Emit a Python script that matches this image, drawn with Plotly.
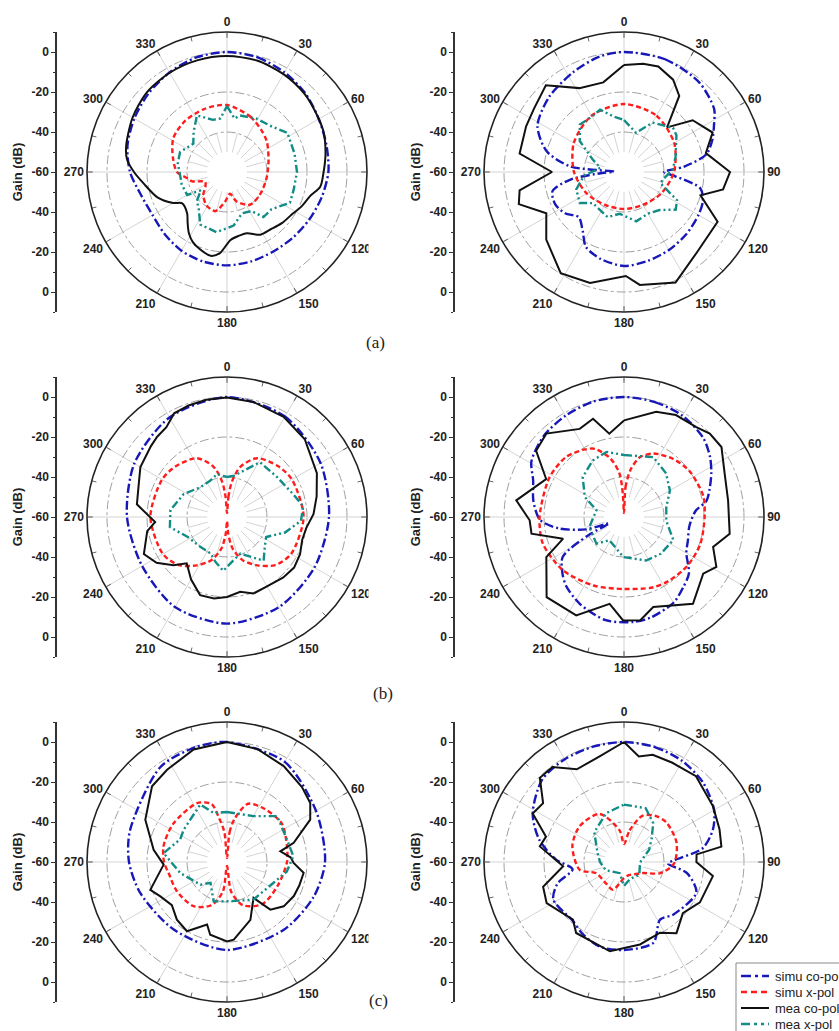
import plotly.graph_objects as go

W, H = 839, 1031

# ---------------- data (gain in dB vs angle in degrees) ----------------
ANG_TICKS = [0, 30, 60, 90, 120, 150, 180, 210, 240, 270, 300, 330]
ANG_TEXT = ["0", "30", "60", "90", "120", "150", "180", "210", "240", "270", "300", "330"]
GAIN_TICKVALS = [-60, -40, -20, 0, 20, 40, 60]
GAIN_TICKTEXT = ["0", "-20", "-40", "-60", "-40", "-20", "0"]
LEGEND_NAMES = ["simu co-pol", "simu x-pol", "mea co-pol", "mea x-pol"]
PANEL_LABELS = ["(a)", "(b)", "(c)"]

# panel (a) left
AL_SC_T = [0, 15, 30, 45, 60, 75, 90, 105, 120, 135, 150, 165, 180, 195, 210, 225, 240, 255, 270, 285, 300, 315, 330, 345]
AL_SC_R = [0, -0.7, -2.5, -4.5, -7, -8.5, -9.3, -11, -12.5, -13.5, -14, -13.7, -13.3, -13.7, -14.5, -16, -17, -15.5, -11.5, -8.5, -6.5, -4.5, -2.5, -0.7]
AL_SX_T = [0, 23, 40, 53, 75, 99, 125, 145, 162, 172, 184, 197, 212, 226, 236, 246, 255, 261, 270, 285, 302, 320, 340]
AL_SX_R = [-26.5, -30, -33, -35, -38.5, -40, -40, -40, -44.5, -49, -45, -39.5, -40.5, -43.5, -47, -48, -42, -40, -35, -32, -28.3, -27, -26.5]
AL_MC_T = [0, 15, 30, 45, 60, 68, 80, 90, 99, 106, 115, 122, 133, 143, 152, 162, 170, 177, 185, 191, 199, 206, 212, 218, 224, 235, 240, 250, 262, 270, 277, 284, 300, 315, 330, 345]
AL_MC_R = [-2, -2.3, -3.5, -5, -7, -7.8, -10, -11.7, -12.8, -16.7, -19, -21, -22.5, -24, -24.5, -27.8, -27.5, -26, -19.3, -17.3, -19, -21, -24, -28, -31.3, -32.7, -29, -23, -18, -13.5, -9.7, -8, -5.5, -3.5, -2.7, -2.2]
AL_MX_T = [0, 8, 13, 29, 45, 57, 75, 90, 105, 116, 130, 141, 148, 160, 173, 190, 207, 218, 226, 235, 240, 255, 266, 280, 293, 310, 320, 332, 345, 353]
AL_MX_R = [-27, -33, -31, -29.5, -28, -24, -25, -25, -25.5, -25, -31, -31, -37, -38, -33, -29.5, -30.5, -37, -39, -44, -37, -36.5, -36.5, -35, -34.5, -38, -34, -28, -33, -33]

# panel (a) right
AR_SC_T = [0, 20, 40, 55, 62, 70, 78, 85, 90, 95, 102, 110, 120, 135, 150, 165, 180, 195, 207, 215, 225, 235, 245, 255, 262, 268, 272, 276, 285, 298, 315, 333, 348]
AR_SC_R = [0, 0, -1.5, -5, -9, -13, -18, -30, -40, -34, -21, -18, -17, -16, -15, -14, -13, -15, -18, -24, -28, -24, -22, -23, -33, -50, -55, -33, -20, -11, -7, -4, -1]
AR_SX_T = [0, 30, 60, 90, 120, 150, 180, 210, 240, 270, 300, 330]
AR_SX_R = [-26, -27.5, -31, -35, -38.5, -41, -41.5, -41, -38.5, -35, -31, -27.5]
AR_MC_T = [0, 10, 18, 28, 36, 44, 53, 66, 77, 90, 100, 107, 118, 138, 155, 172, 179, 197, 212, 229, 242, 253, 260, 270, 280, 295, 305, 318, 332, 347]
AR_MC_R = [-6.5, -5, -4.5, -7.7, -13, -29, -17, -11.5, -18, -7, -9.7, -20, -7, -5.7, 1, -3, -8, -2, -0.3, -8.5, -16, -5, -7, -24, -7, -6, -5, -1.6, -12.5, -14]
AR_MX_T = [0, 17, 30, 48, 55, 73, 87, 100, 107, 118, 126, 137, 150, 166, 186, 200, 213, 225, 235, 250, 265, 280, 292, 305, 317, 330, 339, 350]
AR_MX_R = [-34, -39.5, -31.5, -27, -28, -33, -35.5, -40, -41, -30, -28, -34, -36, -34.6, -39, -36, -37.6, -38, -33, -34.6, -40, -48, -43, -33, -27.6, -28, -26.6, -32]

# panel (b) left
BL_SC_T = [0, 30, 60, 90, 120, 150, 180, 210, 240, 270, 300, 330]
BL_SC_R = [0, -2, -6, -9, -9.5, -8, -6.7, -8, -11, -10, -6.5, -2.5]
BL_SX_T = [0, 4, 8, 15, 27, 45, 60, 90, 120, 135, 148, 160, 170, 176, 180, 184, 190, 200, 212, 225, 240, 270, 300, 315, 333, 345, 352, 356]
BL_SX_R = [-58, -50, -42, -34, -27, -24, -22.5, -21.7, -23, -26, -31.5, -37, -44, -52, -58, -52, -44, -37, -31.5, -26, -23, -21.7, -22.5, -24, -27, -34, -42, -50]
BL_MC_T = [0, 13, 29.5, 45, 64, 77, 88, 98, 107, 117, 127, 137, 150, 161, 170, 180, 189, 199, 210, 221, 228, 237, 246, 260, 266, 278, 290, 300, 313, 319, 326, 333, 341, 350]
BL_MC_R = [-0.3, -1, -2.5, -5, -10, -14, -16.7, -20, -20.7, -19, -18, -18.7, -20, -19.5, -22, -20, -18.7, -18.7, -24, -29.3, -24, -18, -14.5, -19.5, -24, -14.5, -13, -10, -8, -6.8, -5.8, -1.8, -1, -0.5]
BL_MX_T = [0, 10, 31, 51, 71, 82, 93, 105, 117, 128, 140, 160, 172, 184, 195, 204, 222, 243, 260, 277, 298, 318, 335, 347]
BL_MX_R = [-40, -39, -28, -28, -25, -21.5, -23, -30, -38, -36, -31.5, -40.5, -38, -33, -37, -40, -40, -38, -31, -31.5, -35.5, -40, -40, -38]

# panel (b) right
BR_SC_T = [0, 15, 30, 45, 55, 63, 72, 79, 85, 98, 110, 120, 131, 140, 150, 165, 175, 190, 207, 220, 228, 237, 243, 247, 252, 260, 268, 280, 292, 301, 315, 330, 345]
BR_SC_R = [0, -0.5, -1.5, -4, -7.5, -11, -15, -18, -24, -27, -26, -24, -17, -14, -10.5, -8, -7.3, -7.6, -11.3, -15, -18.5, -23.5, -40, -52, -40, -27, -18, -14, -11, -6, -3, -1.5, -0.3]
BR_SX_T = [0, 3, 8, 15, 25, 40, 55, 75, 90, 110, 128, 145, 158, 180, 204, 229, 252, 270, 298, 316, 330, 337, 347, 354, 357]
BR_SX_R = [-58, -45, -36, -29, -25, -22, -20, -19, -19.7, -19.5, -20, -21, -22, -24, -22.5, -19.5, -17.3, -17.8, -17.8, -18.3, -21, -23, -30, -38, -48]
BR_MC_T = [0, 17, 27, 38.8, 45.8, 54.3, 66.7, 81, 99, 108.6, 118.4, 125.6, 141.5, 162, 171, 180.5, 189.4, 205.9, 224, 242.7, 250.4, 259.8, 268, 278.8, 296, 307, 317, 333.3, 342.5, 350]
BR_MC_R = [-11.7, -5, -2.8, -2.3, -0.2, 0, -5.2, -7.3, -6.5, -13, -7.5, -11.3, -4.6, -12.7, -7.7, -8.3, -16, -5.3, -4.3, -16.3, -27.7, -13, -12.8, -5.5, -16.7, -5, -3, -10.7, -8.5, -17.7]
BR_MX_T = [0, 26, 44, 60, 77, 95, 115, 135, 153, 181, 212, 226, 254, 284, 297, 314, 331, 345]
BR_MX_R = [-29, -26.7, -29.7, -33.5, -38.3, -38.8, -32.8, -34, -35.6, -40, -46.3, -40.8, -42, -45.8, -38, -31.3, -27.7, -26.3]

# panel (c) left
CL_SC_T = [0, 30, 61, 90, 112, 140, 180, 218, 250, 270, 288, 325, 345]
CL_SC_R = [0, -2.2, -8.8, -11, -13.3, -15.8, -16, -17, -14, -11, -9, -2, -0.5]
CL_SX_T = [0, 5, 10, 20, 35, 55, 75, 90, 115, 140, 160, 172, 180, 188, 200, 217, 240, 259, 270, 284, 305, 333, 345, 350, 355]
CL_SX_R = [-58, -45, -38, -29, -27.5, -26.5, -29, -30, -32, -32.5, -37, -45, -58, -45, -37, -32.3, -31, -30.3, -28.5, -27.3, -27, -27, -30, -38, -45]
CL_MC_T = [0, 15, 30.6, 45, 54.7, 63, 74, 78.7, 86, 90.8, 98, 108, 117, 128, 137.7, 143.5, 158, 175, 180, 193, 197.7, 210, 221, 232, 242.7, 250, 258, 267.6, 279.5, 297.4, 315.3, 327, 343.5]
CL_MC_R = [0, -1.5, -4.3, -7, -9, -13.3, -25.3, -32.8, -28, -26.7, -21.3, -22, -22.5, -24, -27.8, -37.7, -28.8, -21, -20.3, -22.7, -27.2, -20, -21.8, -25, -22.5, -19.2, -24.3, -28.3, -22.8, -14, -6.7, -5, -1.3]
CL_MX_T = [0, 30, 47.6, 69.6, 85, 99, 114, 145, 175, 198.7, 218.4, 229.6, 256.7, 278, 296, 306.7, 335, 345]
CL_MX_R = [-35, -33.5, -26, -28, -26.7, -29.7, -34.5, -37, -40.3, -39.2, -46.7, -42.5, -36, -28, -34, -33, -28.3, -34.7]

# panel (c) right
CR_SC_T = [0, 15, 30, 45, 60, 70, 80, 88, 92, 100, 113, 137, 148, 160, 180, 196, 210, 221, 242, 252, 262, 272, 285, 298, 315, 330, 345]
CR_SC_R = [0, -0.5, -1.7, -4, -8, -12.7, -20, -35, -38, -28, -20.7, -24, -26, -17, -16, -16, -18.5, -21, -20, -25, -34, -26, -16, -8.3, -2, -0.7, -0.3]
CR_SX_T = [0, 10, 22, 35, 47, 70, 92, 107, 120, 140, 160, 180, 192, 202, 220, 248, 260, 287, 309, 333, 352]
CR_SX_R = [-51, -44, -35, -32, -31, -32, -35, -41, -49, -52, -53, -52, -49, -45, -46, -45, -37.5, -33, -31.5, -33, -44]
CR_MC_T = [0, 8, 15, 26, 40, 58, 71, 81, 84, 90, 99, 118, 131, 143.6, 153, 169, 189, 214, 221.5, 242, 253, 266, 280.5, 288, 298, 306, 315, 323, 333, 347]
CR_MC_R = [0, -6.7, -4.5, -4.8, -4, -7.5, -9.5, -10.7, -23.5, -23.8, -15, -17, -21, -15.8, -20.3, -18, -14.8, -17.2, -21.5, -16.2, -17.7, -29.5, -17.2, -19, -8.3, -10, -0.5, -0.5, -8, -5.8]
CR_MX_T = [0, 22, 37, 50, 64, 92, 130, 161, 180, 201, 246, 270, 289, 315, 340]
CR_MX_R = [-31.3, -31, -35.7, -42, -46, -52, -50, -51, -48, -54, -50, -48, -46, -39, -34]

PANELS = [
    [(AL_SC_T, AL_SC_R), (AL_SX_T, AL_SX_R), (AL_MC_T, AL_MC_R), (AL_MX_T, AL_MX_R)],
    [(AR_SC_T, AR_SC_R), (AR_SX_T, AR_SX_R), (AR_MC_T, AR_MC_R), (AR_MX_T, AR_MX_R)],
    [(BL_SC_T, BL_SC_R), (BL_SX_T, BL_SX_R), (BL_MC_T, BL_MC_R), (BL_MX_T, BL_MX_R)],
    [(BR_SC_T, BR_SC_R), (BR_SX_T, BR_SX_R), (BR_MC_T, BR_MC_R), (BR_MX_T, BR_MX_R)],
    [(CL_SC_T, CL_SC_R), (CL_SX_T, CL_SX_R), (CL_MC_T, CL_MC_R), (CL_MX_T, CL_MX_R)],
    [(CR_SC_T, CR_SC_R), (CR_SX_T, CR_SX_R), (CR_MC_T, CR_MC_R), (CR_MX_T, CR_MX_R)],
]
SMOOTH_MEA = [True, False, False, False, False, False]

# ---------------- layout geometry / styles ----------------
CENTERS = [(227, 172), (624, 172), (227, 517), (624, 517), (227, 862), (624, 862)]
AXIS_X = [57, 455, 57, 455, 57, 455]
RAD = 140
LABEL_POS = [(375, 331), (383, 705), (378, 1012)]
LEG_BOX = (736, 963)            # top-left of the legend frame (px)
LEG_ROWS = [976, 992, 1008, 1024]
LEG_LINE_X = (741, 769)
LEG_TEXT_X = 773

STYLES = [
    dict(color="#1818b8", width=2.4, dash="9px,3px,2px,3px"),
    dict(color="#ff1c1c", width=2.4, dash="5px,3px"),
    dict(color="#111111", width=2.0, dash="solid"),
    dict(color="#128c86", width=2.4, dash="8px,3px,2px,3px,2px,3px"),
]
LEG_DASH = ["10px,4px,3px,4px", "6px,4px", "solid", "9px,4px,3px,4px,3px,4px"]

BOLD = dict(family="Liberation Sans, Arial, sans-serif", size=12, color="#222", weight="bold")


def closed(t, r):
    return list(t) + [t[0] + 360], list(r) + [r[0]]


fig = go.Figure()
layout = dict(
    width=W, height=H, autosize=False,
    margin=dict(l=0, r=0, t=0, b=0, autoexpand=False),
    paper_bgcolor="white", plot_bgcolor="white",
    showlegend=False,
)

circle_t = list(range(0, 361, 5))
minor_t, minor_r, tick_t, tick_r = [], [], [], []
for a in range(15, 360, 30):
    minor_t += [a, a, None]
    minor_r += [-50, -40, None]
    tick_t += [a, a, None]
    tick_r += [7.6, 10, None]

for i, (cx, cy) in enumerate(CENTERS):
    pname = "polar" if i == 0 else f"polar{i + 1}"
    k = i + 1
    ydom = [1 - (cy + RAD) / H, 1 - (cy - RAD) / H]
    layout[pname] = dict(
        domain=dict(x=[(cx - RAD) / W, (cx + RAD) / W], y=ydom),
        bgcolor="white",
        radialaxis=dict(range=[-60, 10], tickvals=[-40, -20, 0], showticklabels=False,
                        ticks="", showline=False, gridcolor="#a0a0a0", gridwidth=1,
                        griddash="dashdot"),
        angularaxis=dict(direction="clockwise", rotation=90, tickmode="array",
                         tickvals=ANG_TICKS, ticktext=ANG_TEXT, showline=True,
                         linecolor="#222", linewidth=1.6, gridcolor="#d4d4d4", gridwidth=1,
                         ticks="inside", ticklen=5, tickcolor="#555", tickfont=BOLD),
    )
    # white centre and minor spokes / ticks
    fig.add_trace(go.Scatterpolar(theta=circle_t, r=[-50] * len(circle_t), mode="lines",
                                  fill="toself", fillcolor="white", line=dict(width=0, color="white"),
                                  subplot=pname, hoverinfo="skip"))
    fig.add_trace(go.Scatterpolar(theta=minor_t, r=minor_r, mode="lines",
                                  line=dict(width=1, color="#d4d4d4"),
                                  subplot=pname, hoverinfo="skip"))
    fig.add_trace(go.Scatterpolar(theta=tick_t, r=tick_r, mode="lines",
                                  line=dict(width=1, color="#666"),
                                  subplot=pname, hoverinfo="skip"))
    for j, (t, r) in enumerate(PANELS[i]):
        tt, rr = closed(t, r)
        smooth = j in (0, 1) or (j == 2 and SMOOTH_MEA[i])
        fig.add_trace(go.Scatterpolar(
            theta=tt, r=rr, mode="lines", name=LEGEND_NAMES[j],
            line=dict(color=STYLES[j]["color"], width=STYLES[j]["width"], dash=STYLES[j]["dash"],
                      shape="spline" if smooth else "linear", smoothing=0.8),
            subplot=pname, hoverinfo="skip"))

    # the separate "Gain (dB)" scale on the left of each polar plot
    xa = dict(domain=[AXIS_X[i] / W, AXIS_X[i] / W + 0.004], visible=False, range=[0, 1],
              anchor=f"y{k}", fixedrange=True)
    ya = dict(domain=ydom, range=[-70, 70], anchor=f"x{k}", tickmode="array",
              tickvals=GAIN_TICKVALS, ticktext=GAIN_TICKTEXT, showline=True,
              linecolor="#333", linewidth=1.5, ticks="outside", ticklen=4, tickwidth=1.2,
              tickcolor="#333", minor=dict(tickvals=[-70, -50, -30, -10, 10, 30, 50, 70],
                                          ticks="outside", ticklen=2, tickcolor="#333"),
              showgrid=False, zeroline=False, automargin=False, tickfont=BOLD,
              title=dict(text="Gain (dB)", font=dict(family="Liberation Sans, Arial, sans-serif",
                                                      size=13, color="#222", weight="bold"),
                         standoff=6),
              fixedrange=True)
    layout["xaxis" if k == 1 else f"xaxis{k}"] = xa
    layout["yaxis" if k == 1 else f"yaxis{k}"] = ya
    fig.add_trace(go.Scatter(x=[0.5], y=[0], mode="markers", marker=dict(size=1, opacity=0),
                             xaxis=f"x{k}", yaxis=f"y{k}", hoverinfo="skip"))

shapes = [dict(type="rect", xref="paper", yref="paper", x0=368.5 / W, x1=405 / W,
               y0=0, y1=1, fillcolor="white", line=dict(width=0), layer="above")]
# legend frame and samples (bottom-right, cropped by the page edge as in the reference)
shapes.append(dict(type="rect", xref="paper", yref="paper", x0=LEG_BOX[0] / W, x1=860 / W,
                   y0=1 - 1045 / H, y1=1 - LEG_BOX[1] / H, fillcolor="white",
                   line=dict(width=1, color="#8a8a8a"), layer="above"))
annotations = [
    dict(text=lab, x=px / W, y=1 - py / H, xref="paper", yref="paper", showarrow=False,
         font=dict(family="Liberation Serif, Times New Roman, serif", size=17, color="#222"))
    for lab, (px, py) in zip(PANEL_LABELS, LABEL_POS)
]
for j, yy in enumerate(LEG_ROWS):
    shapes.append(dict(type="line", xref="paper", yref="paper",
                       x0=LEG_LINE_X[0] / W, x1=LEG_LINE_X[1] / W, y0=1 - yy / H, y1=1 - yy / H,
                       line=dict(color=STYLES[j]["color"], width=STYLES[j]["width"], dash=LEG_DASH[j]),
                       layer="above"))
    annotations.append(dict(text=LEGEND_NAMES[j], x=LEG_TEXT_X / W, y=1 - yy / H, xref="paper",
                            yref="paper", xanchor="left", yanchor="middle", showarrow=False,
                            font=dict(family="Liberation Sans, Arial, sans-serif", size=13,
                                      color="#222")))
layout["shapes"] = shapes
layout["annotations"] = annotations

fig.update_layout(**layout)
fig.write_html("out.html")
